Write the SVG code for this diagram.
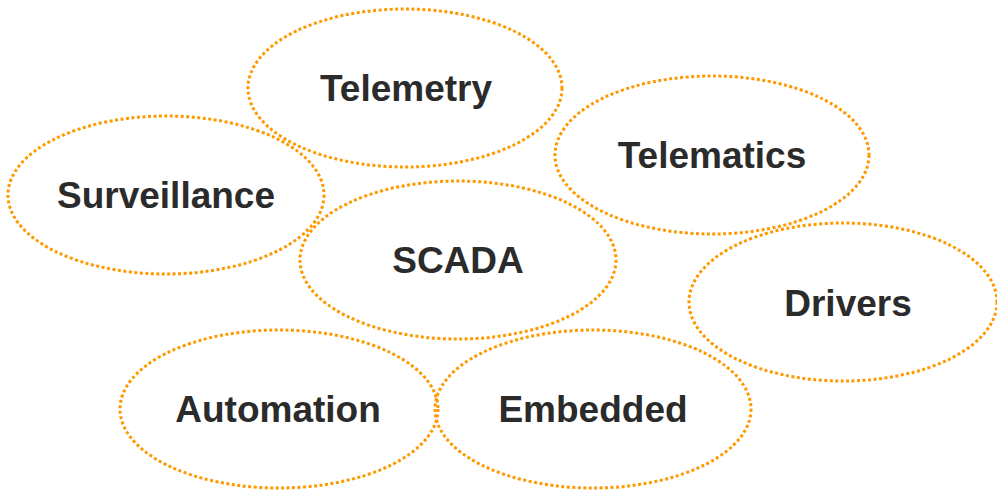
<svg xmlns="http://www.w3.org/2000/svg" width="997" height="490" viewBox="0 0 997 490">
<style>
.e{fill:none;stroke:#FF9900;stroke-width:3;stroke-dasharray:3 2.5}
.t{font-family:"Liberation Sans",Arial,sans-serif;font-weight:bold;font-size:37px;fill:#2b2b2b;text-anchor:middle}
</style>
<rect width="997" height="490" fill="#fff"/>
<g id="telemetry"><ellipse class="e" cx="405" cy="88" rx="157" ry="79"/><text class="t" x="406" y="101">Telemetry</text></g>
<g id="telematics"><ellipse class="e" cx="712" cy="155" rx="157" ry="79"/><text class="t" x="712" y="168">Telematics</text></g>
<g id="surveillance"><ellipse class="e" cx="166" cy="195" rx="158" ry="79"/><text class="t" x="166" y="208">Surveillance</text></g>
<g id="scada"><ellipse class="e" cx="458" cy="260" rx="158" ry="79"/><text class="t" x="458" y="273">SCADA</text></g>
<g id="drivers"><ellipse class="e" cx="843" cy="302" rx="154" ry="79"/><text class="t" x="848" y="316">Drivers</text></g>
<g id="automation"><ellipse class="e" cx="279" cy="409" rx="159" ry="79"/><text class="t" x="278" y="422">Automation</text></g>
<g id="embedded"><ellipse class="e" cx="593" cy="409" rx="158" ry="79"/><text class="t" x="593" y="422">Embedded</text></g>
<g id="connectors"></g>
</svg>
